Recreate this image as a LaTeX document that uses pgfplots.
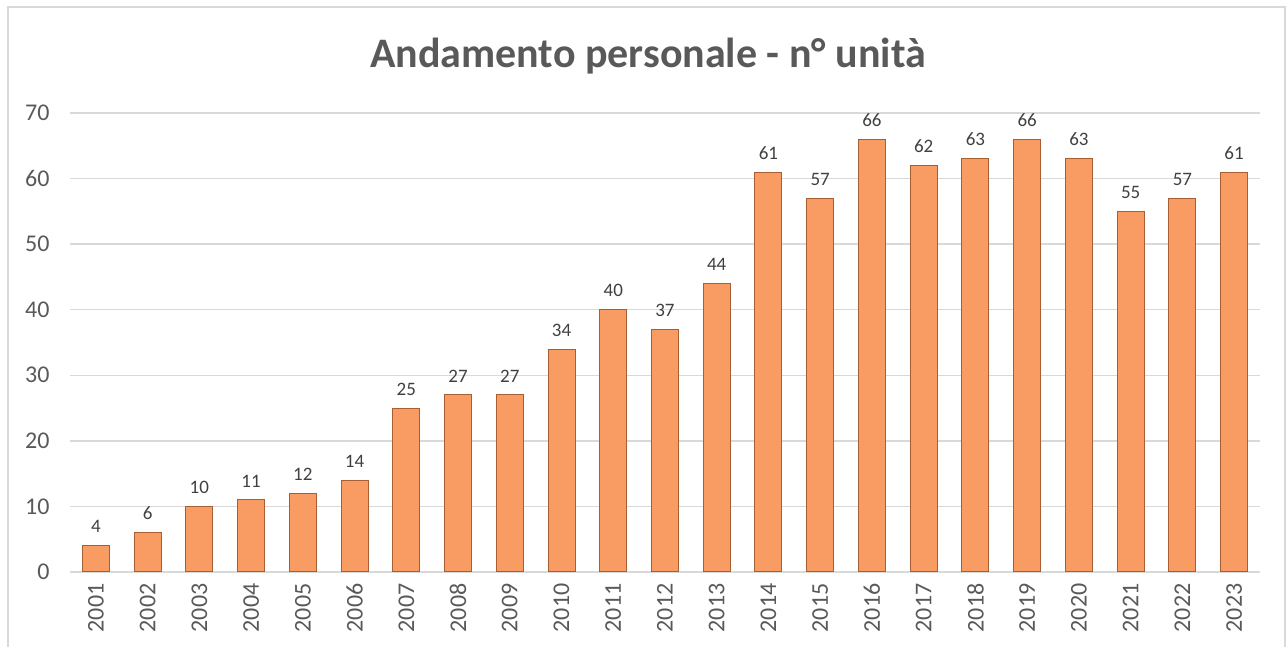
\documentclass[border=0pt]{standalone}
\usepackage{fontspec}
\setmainfont{Carlito}
\usepackage{pgfplots}
\pgfplotsset{compat=1.18}
\definecolor{txt}{HTML}{595959}
\definecolor{lbl}{HTML}{404040}
\definecolor{gridc}{HTML}{D9D9D9}
\definecolor{barfill}{HTML}{F99C63}
\definecolor{baredge}{HTML}{A85E33}
\begin{document}
\begin{tikzpicture}[x=1pt,y=1pt]
\useasboundingbox (-70,-75) rectangle (1217,572);
\draw[gridc, line width=1.2pt] (-62,-90) -- (-62,565) -- (1215,565) -- (1215,-90);
\begin{axis}[
    scale only axis,
    width=1190pt, height=459pt,
    ybar, bar width=27pt,
    xmin=-0.5, xmax=22.5,
    ymin=0, ymax=70,
    ytick={0,10,...,70},
    xtick=data,
    xticklabels={2001,2002,2003,2004,2005,2006,2007,2008,2009,2010,2011,2012,2013,2014,2015,2016,2017,2018,2019,2020,2021,2022,2023},
    xticklabel style={rotate=90, anchor=east, font=\fontsize{24}{24}\selectfont, text=txt, xshift=-8pt},
    yticklabel style={font=\fontsize{24}{24}\selectfont, text=txt, xshift=-17pt},
    /pgf/number format/assume math mode=true,
    axis line style={draw=none},
    major tick length=0pt,
    ymajorgrids,
    grid style={gridc, line width=1.5pt},
    nodes near coords,
    nodes near coords style={font=\fontsize{19}{19}\selectfont, text=lbl, yshift=9pt},
]
\addplot[fill=barfill, draw=baredge, line width=1pt] coordinates {
(0,4) (1,6) (2,10) (3,11) (4,12) (5,14) (6,25) (7,27) (8,27) (9,34) (10,40) (11,37)
(12,44) (13,61) (14,57) (15,66) (16,62) (17,63) (18,66) (19,63) (20,55) (21,57) (22,61)};
\end{axis}
\node[font=\fontsize{42}{42}\selectfont\bfseries, text=txt] at (578,516) {Andamento personale - n° unità};
\end{tikzpicture}
\end{document}
